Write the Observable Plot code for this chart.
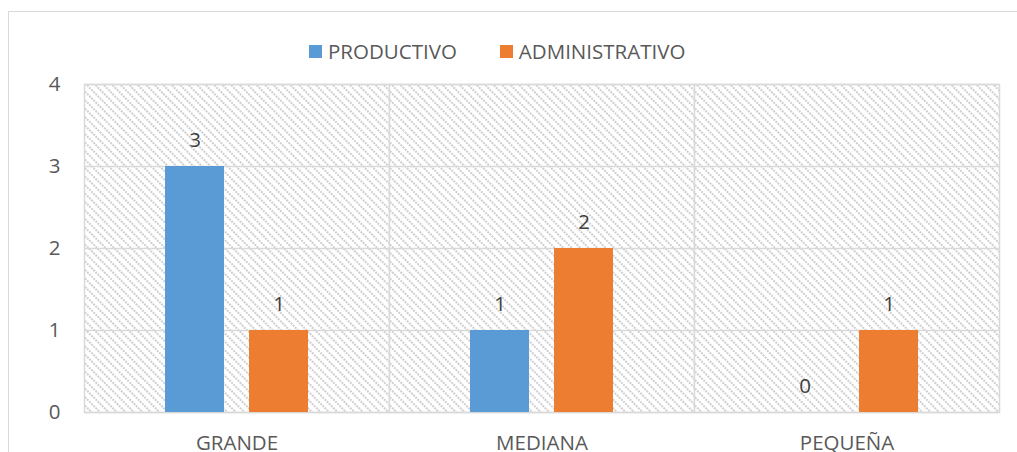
<!DOCTYPE html>
<html>
<head>
<meta charset="utf-8">
<script src="https://cdn.jsdelivr.net/npm/d3@7"></script>
<script src="https://cdn.jsdelivr.net/npm/@observablehq/plot@0.6"></script>
<style>
  html, body { margin: 0; padding: 0; background: #fff; overflow: hidden; }
  #wrap { position: relative; width: 1017px; height: 452px; font-family: "Open Sans", sans-serif; color: #595959; }
  #box { position: absolute; left: 8px; top: 11px; width: 1100px; height: 500px; border: 1.5px solid #d9d9d9; box-sizing: border-box; }
  #legend { position: absolute; left: 309px; top: 38px; display: flex; align-items: center; font-size: 20.5px; line-height: 26px; white-space: nowrap; }
  #legend .sw { display: inline-block; width: 13px; height: 13px; margin-right: 6px; }
  #legend .item { display: flex; align-items: center; margin-right: 43px; }
  #chart { position: absolute; left: 0; top: 60px; }
</style>
</head>
<body>
<div id="wrap">
  <div id="box"></div>
  <div id="legend"></div>
  <div id="chart"></div>
</div>
<script>
const categories = ["GRANDE", "MEDIANA", "PEQUEÑA"];
const series = ["PRODUCTIVO", "ADMINISTRATIVO"];
const productivo = [3, 1, 0];
const administrativo = [1, 2, 1];
const yTicks = [0, 1, 2, 3, 4];
const colors = ["#5b9bd5", "#ed7d31"];

const data = [];
categories.forEach((c, i) => {
  data.push({cat: c, serie: series[0], value: productivo[i]});
  data.push({cat: c, serie: series[1], value: administrativo[i]});
});

const legend = document.getElementById("legend");
series.forEach((s, i) => {
  const it = document.createElement("div");
  it.className = "item";
  const sw = document.createElement("span");
  sw.className = "sw";
  sw.style.background = colors[i];
  it.appendChild(sw);
  it.appendChild(document.createTextNode(s));
  legend.appendChild(it);
});

const plot = Plot.plot({
  width: 1017,
  height: 392,
  marginTop: 24,
  marginBottom: 40,
  marginLeft: 83,
  marginRight: 17,
  style: {fontFamily: "Open Sans, sans-serif", fontSize: "20.5px", color: "#595959", background: "transparent", overflow: "visible"},
  fx: {domain: categories, padding: 0, label: null, axis: "bottom", tickSize: 0, tickPadding: 23},
  x: {domain: series, paddingInner: 0.294, paddingOuter: 0.947, axis: null},
  y: {domain: [0, 4], ticks: yTicks, tickFormat: "d", label: null, tickSize: 0, tickPadding: 24},
  color: {domain: series, range: colors},
  marks: [
    Plot.frame({fill: "url(#hatch)", stroke: "#d9d9d9", strokeWidth: 1.5}),
    Plot.gridY(yTicks, {stroke: "#d9d9d9", strokeOpacity: 1, strokeWidth: 1.5}),
    Plot.barY(data, {fx: "cat", x: "serie", y: "value", fill: "serie"}),
    Plot.text(data, {fx: "cat", x: "serie", y: "value", text: d => String(d.value), dy: -26, fill: "#404040", fontSize: 20.5, lineAnchor: "middle"})
  ]
});

// hatch pattern definition
const ns = "http://www.w3.org/2000/svg";
const defs = document.createElementNS(ns, "defs");
const pat = document.createElementNS(ns, "pattern");
pat.setAttribute("id", "hatch");
pat.setAttribute("patternUnits", "userSpaceOnUse");
pat.setAttribute("width", "6");
pat.setAttribute("height", "6");
pat.setAttribute("patternTransform", "rotate(-45)");
const bg = document.createElementNS(ns, "rect");
bg.setAttribute("width", "6"); bg.setAttribute("height", "6"); bg.setAttribute("fill", "#ffffff");
const ln = document.createElementNS(ns, "line");
ln.setAttribute("x1", "1"); ln.setAttribute("y1", "0"); ln.setAttribute("x2", "1"); ln.setAttribute("y2", "6");
ln.setAttribute("stroke", "#cfcfcf"); ln.setAttribute("stroke-width", "2"); ln.setAttribute("stroke-dasharray", "2 1");
pat.appendChild(bg); pat.appendChild(ln);
defs.appendChild(pat);
plot.insertBefore(defs, plot.firstChild);

document.getElementById("chart").appendChild(plot);
</script>
</body>
</html>
